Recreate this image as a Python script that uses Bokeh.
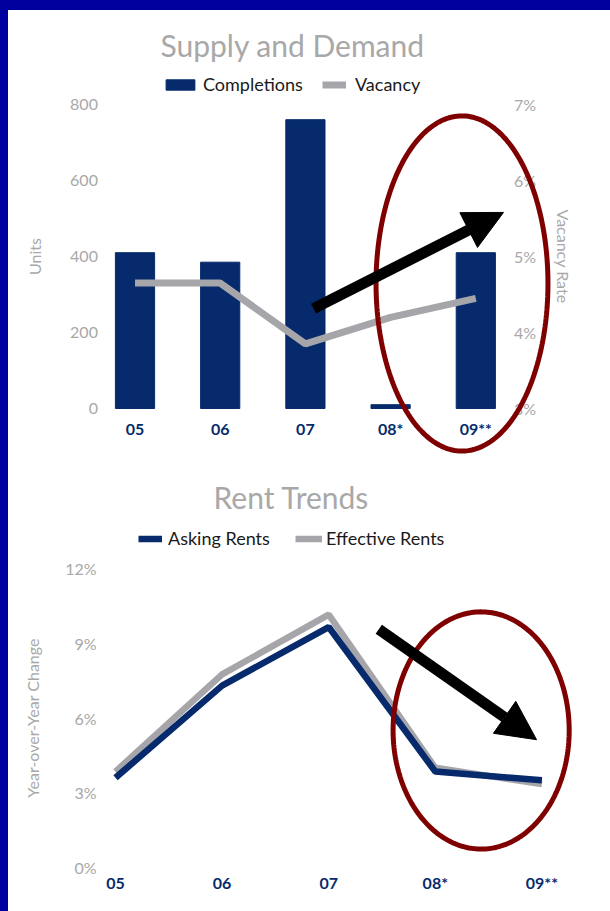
import numpy as np
from bokeh.plotting import figure
from bokeh.models import (Range1d, LinearAxis, FixedTicker, PrintfTickFormatter,
                          Legend, LegendItem, Arrow, NormalHead, PolyAnnotation, Spacer)
from bokeh.layouts import column, row
from bokeh.embed import file_html
from bokeh.resources import INLINE

# ---- data -------------------------------------------------------------
categories = ["05", "06", "07", "08*", "09**"]
completions = [410, 385, 760, 10, 410]          # units
vacancy_pct = [4.65, 4.65, 3.85, 4.2, 4.45]      # vacancy rate, %
asking_pct = [3.6, 7.3, 9.65, 3.85, 3.5]         # asking rents, YoY %
effective_pct = [3.85, 7.75, 10.15, 4.0, 3.35]   # effective rents, YoY %

units_ticks = [0, 200, 400, 600, 800]
vacancy_ticks = [3, 4, 5, 6, 7]
rent_ticks = [0, 3, 6, 9, 12]

# ---- styling ----------------------------------------------------------
NAVY = "#062a6b"
GRAY = "#a6a6aa"
TEXT_GRAY = "#a8a8a8"
EDGE_BLUE = "#00009f"
RING = "#7f0000"
FONT = "Lato"
W = 602

xs = list(range(len(categories)))
cat_labels = {i: c for i, c in enumerate(categories)}


def fit_range(v0, px0, v1, px1, lo_px, hi_px):
    """Range whose ends fall on frame pixels lo_px/hi_px, with v0 at px0 and v1 at px1."""
    k = (v1 - v0) / (px1 - px0)
    return Range1d(v0 + (lo_px - px0) * k, v0 + (hi_px - px0) * k)


def style_axis(ax, label_color=TEXT_GRAY, bold=False):
    ax.axis_line_color = None
    ax.major_tick_line_color = None
    ax.minor_tick_line_color = None
    ax.major_tick_out = 0
    ax.major_tick_in = 0
    ax.major_label_text_font = FONT
    ax.major_label_text_font_size = "16px"
    ax.major_label_text_color = label_color
    ax.major_label_text_font_style = "bold" if bold else "normal"
    ax.axis_label_text_font = FONT
    ax.axis_label_text_font_size = "16px"
    ax.axis_label_text_color = TEXT_GRAY
    ax.axis_label_text_font_style = "normal"


def ring(cx, cy, rx, ry, n=240):
    t = np.linspace(0, 2 * np.pi, n)
    return list(cx + rx * np.cos(t)), list(cy + ry * np.sin(t))


def style_title(p, offset, standoff):
    p.title.align = "left"
    p.title.offset = offset
    p.title.standoff = standoff
    p.title.text_font = FONT
    p.title.text_font_size = "30px"
    p.title.text_font_style = "normal"
    p.title.text_color = TEXT_GRAY


def add_key(p, renderer, label, loc, glyph_w, glyph_h, standoff):
    p.add_layout(Legend(items=[LegendItem(label=label, renderers=[renderer])],
                        location=loc, margin=0, padding=0,
                        label_standoff=standoff, glyph_width=glyph_w, glyph_height=glyph_h,
                        border_line_color=None, background_fill_alpha=0,
                        label_text_font=FONT, label_text_font_size="18px",
                        label_text_color="#1a1a1a"))


def new_chart(title, height, top, x_range, y_range):
    p = figure(width=W, height=height, output_backend="svg", toolbar_location=None,
               x_range=x_range, y_range=y_range, title=title,
               min_border_left=0, min_border_right=0,
               min_border_top=top, min_border_bottom=0, outline_line_color=None)
    p.grid.visible = False
    return p


# ---- Supply and Demand --------------------------------------------------
# frame: 386 px tall; 0 units sits 52 px above its bottom, 800 units at 356 px
p1 = new_chart("Supply and Demand", 450, 64,
               fit_range(0, 126.5, 4, 467.3, 0, W),
               fit_range(0, 52, 800, 356, 0, 386))
p1.extra_y_ranges = {"vac": fit_range(3, 52, 7, 356, 0, 386)}
style_title(p1, 152, 24)

bars = p1.vbar(x=xs, top=completions, width=0.46, color=NAVY)
vac_line = p1.line(x=xs, y=vacancy_pct, y_range_name="vac",
                   line_width=7, line_color=GRAY)

ax = p1.xaxis[0]
ax.ticker = FixedTicker(ticks=xs)
ax.major_label_overrides = cat_labels
ax.fixed_location = 0
style_axis(ax, NAVY, bold=True)
ax.major_label_standoff = 10

ay = p1.yaxis[0]
ay.ticker = FixedTicker(ticks=units_ticks)
ay.axis_label = "Units"
ay.fixed_location = -0.4
ay.bounds = (0, 800)
style_axis(ay)
ay.major_label_standoff = 3
ay.axis_label_standoff = 23

ar = LinearAxis(y_range_name="vac", ticker=FixedTicker(ticks=vacancy_ticks),
                formatter=PrintfTickFormatter(format="%d%%"), axis_label="Vacancy Rate",
                fixed_location=4.4, bounds=(3, 7))
style_axis(ar)
ar.major_label_standoff = 4
ar.axis_label_standoff = 15
p1.add_layout(ar, "right")

add_key(p1, bars, "Completions", (154, 365), 36, 13, 5)
add_key(p1, vac_line, "Vacancy", (314, 365), 24, 13, 9)

ex, ey = ring(3.838, 329, 1.009, 441)
p1.add_layout(PolyAnnotation(xs=ex, ys=ey, fill_color=None, fill_alpha=0,
                             line_color=RING, line_alpha=1.0, line_width=5))
p1.add_layout(Arrow(x_start=2.095, y_start=263, x_end=4.325, y_end=516,
                    line_width=11, line_color="black",
                    end=NormalHead(size=39, fill_color="black", line_color="black")))

# ---- Rent Trends --------------------------------------------------------
# frame: 383 px tall; 0% sits 44 px above its bottom, 12% at 343 px
p2 = new_chart("Rent Trends", 451, 68,
               fit_range(0, 107, 4, 533.4, 0, W),
               fit_range(0, 44, 12, 343, 0, 383))
style_title(p2, 205, 28)

eff_line = p2.line(x=xs, y=effective_pct, line_width=6.5, line_color=GRAY)
ask_line = p2.line(x=xs, y=asking_pct, line_width=6.5, line_color=NAVY)

bx = p2.xaxis[0]
bx.ticker = FixedTicker(ticks=xs)
bx.major_label_overrides = cat_labels
bx.fixed_location = 0
style_axis(bx, NAVY, bold=True)
bx.major_label_standoff = 5

by = p2.yaxis[0]
by.ticker = FixedTicker(ticks=rent_ticks)
by.formatter = PrintfTickFormatter(format="%d%%")
by.axis_label = "Year-over-Year Change"
by.fixed_location = -0.15
by.bounds = (0, 12)
style_axis(by)
by.major_label_standoff = 3
by.axis_label_standoff = 20

add_key(p2, ask_line, "Asking Rents", (130, 362), 24, 13, 6)
add_key(p2, eff_line, "Effective Rents", (287, 362), 27, 13, 4)

fx, fy = ring(3.43, 5.50, 0.826, 4.76)
p2.add_layout(PolyAnnotation(xs=fx, ys=fy, fill_color=None, fill_alpha=0,
                             line_color=RING, line_alpha=1.0, line_width=5))
p2.add_layout(Arrow(x_start=2.47, y_start=9.56, x_end=3.95, y_end=5.13,
                    line_width=11, line_color="black",
                    end=NormalHead(size=39, fill_color="black", line_color="black")))

# ---- page with blue edge on top and left ----------------------------------
edge = {"background-color": EDGE_BLUE}
page = row(Spacer(width=8, height=911, styles=edge),
           column(Spacer(width=W, height=10, styles=edge), p1, p2))

open("out.html", "w").write(file_html(page, INLINE))
